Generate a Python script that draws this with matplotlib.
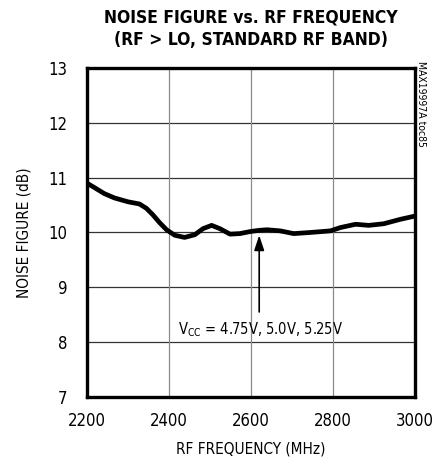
import matplotlib
matplotlib.use("Agg")
import matplotlib.pyplot as plt

# noise figure (VCC = 4.75V, 5.0V, 5.25V overlap)
freq_mhz = [2200, 2218, 2242, 2267, 2300, 2328, 2345, 2361, 2377, 2394, 2414,
            2438, 2463, 2483, 2504, 2524, 2549, 2573, 2600, 2620, 2639, 2671,
            2704, 2744, 2794, 2818, 2855, 2887, 2924, 2964, 3000]
nf_db = [10.90, 10.82, 10.71, 10.63, 10.56, 10.52, 10.44, 10.32, 10.18, 10.05, 9.95,
         9.91, 9.96, 10.07, 10.13, 10.07, 9.97, 9.98, 10.02, 10.04, 10.05, 10.03,
         9.98, 10.00, 10.03, 10.09, 10.15, 10.13, 10.16, 10.24, 10.30]

x_ticks = [2200, 2400, 2600, 2800, 3000]
y_ticks = [7, 8, 9, 10, 11, 12, 13]

plt.rcParams['font.family'] = ['DejaVu Sans']
plt.rcParams['font.stretch'] = 'condensed'
plt.rcParams['mathtext.fontset'] = 'custom'
plt.rcParams['mathtext.rm'] = 'DejaVu Sans:stretch=condensed'

fig = plt.figure(figsize=(4.45, 4.57), dpi=100)
ax = fig.add_axes([0.1955, 0.1313, 0.7371, 0.7199])

ax.plot(freq_mhz, nf_db, color='black', lw=3.4, solid_joinstyle='round', zorder=3)

ax.set_xlim(2200, 3000)
ax.set_ylim(7, 13)
ax.set_xticks(x_ticks)
ax.set_yticks(y_ticks)
ax.tick_params(length=0, labelsize=12)
ax.tick_params(axis='x', pad=11)
ax.tick_params(axis='y', pad=14)
for y in y_ticks[1:-1]:
    ax.axhline(y, color='#333333', lw=0.9, zorder=1)
for x in x_ticks[1:-1]:
    ax.axvline(x, color='#8a8a8a', lw=0.9, zorder=1)
for s in ax.spines.values():
    s.set_linewidth(2.4)

ax.set_xlabel('RF FREQUENCY (MHz)', fontsize=11, labelpad=8)
ax.set_ylabel('NOISE FIGURE (dB)', fontsize=11, labelpad=12)

ax.annotate('', xy=(2620, 10.0), xytext=(2620, 8.5),
            arrowprops=dict(arrowstyle='-|>,head_length=0.9,head_width=0.3',
                            color='black', lw=1.2), zorder=4)
ax.text(2422, 8.22, r'V$_{\mathrm{CC}}$ = 4.75V, 5.0V, 5.25V', fontsize=10.5,
        va='center', ha='left')

fig.text(0.5636, 0.962, 'NOISE FIGURE vs. RF FREQUENCY', fontsize=12.5,
         fontweight='bold', ha='center', va='center')
fig.text(0.5636, 0.912, '(RF > LO, STANDARD RF BAND)', fontsize=12.5,
         fontweight='bold', ha='center', va='center')
fig.text(0.9455, 0.772, 'MAX19997A toc85', fontsize=7.5, rotation=270,
         ha='center', va='center')

fig.savefig('out.png', dpi=100)
